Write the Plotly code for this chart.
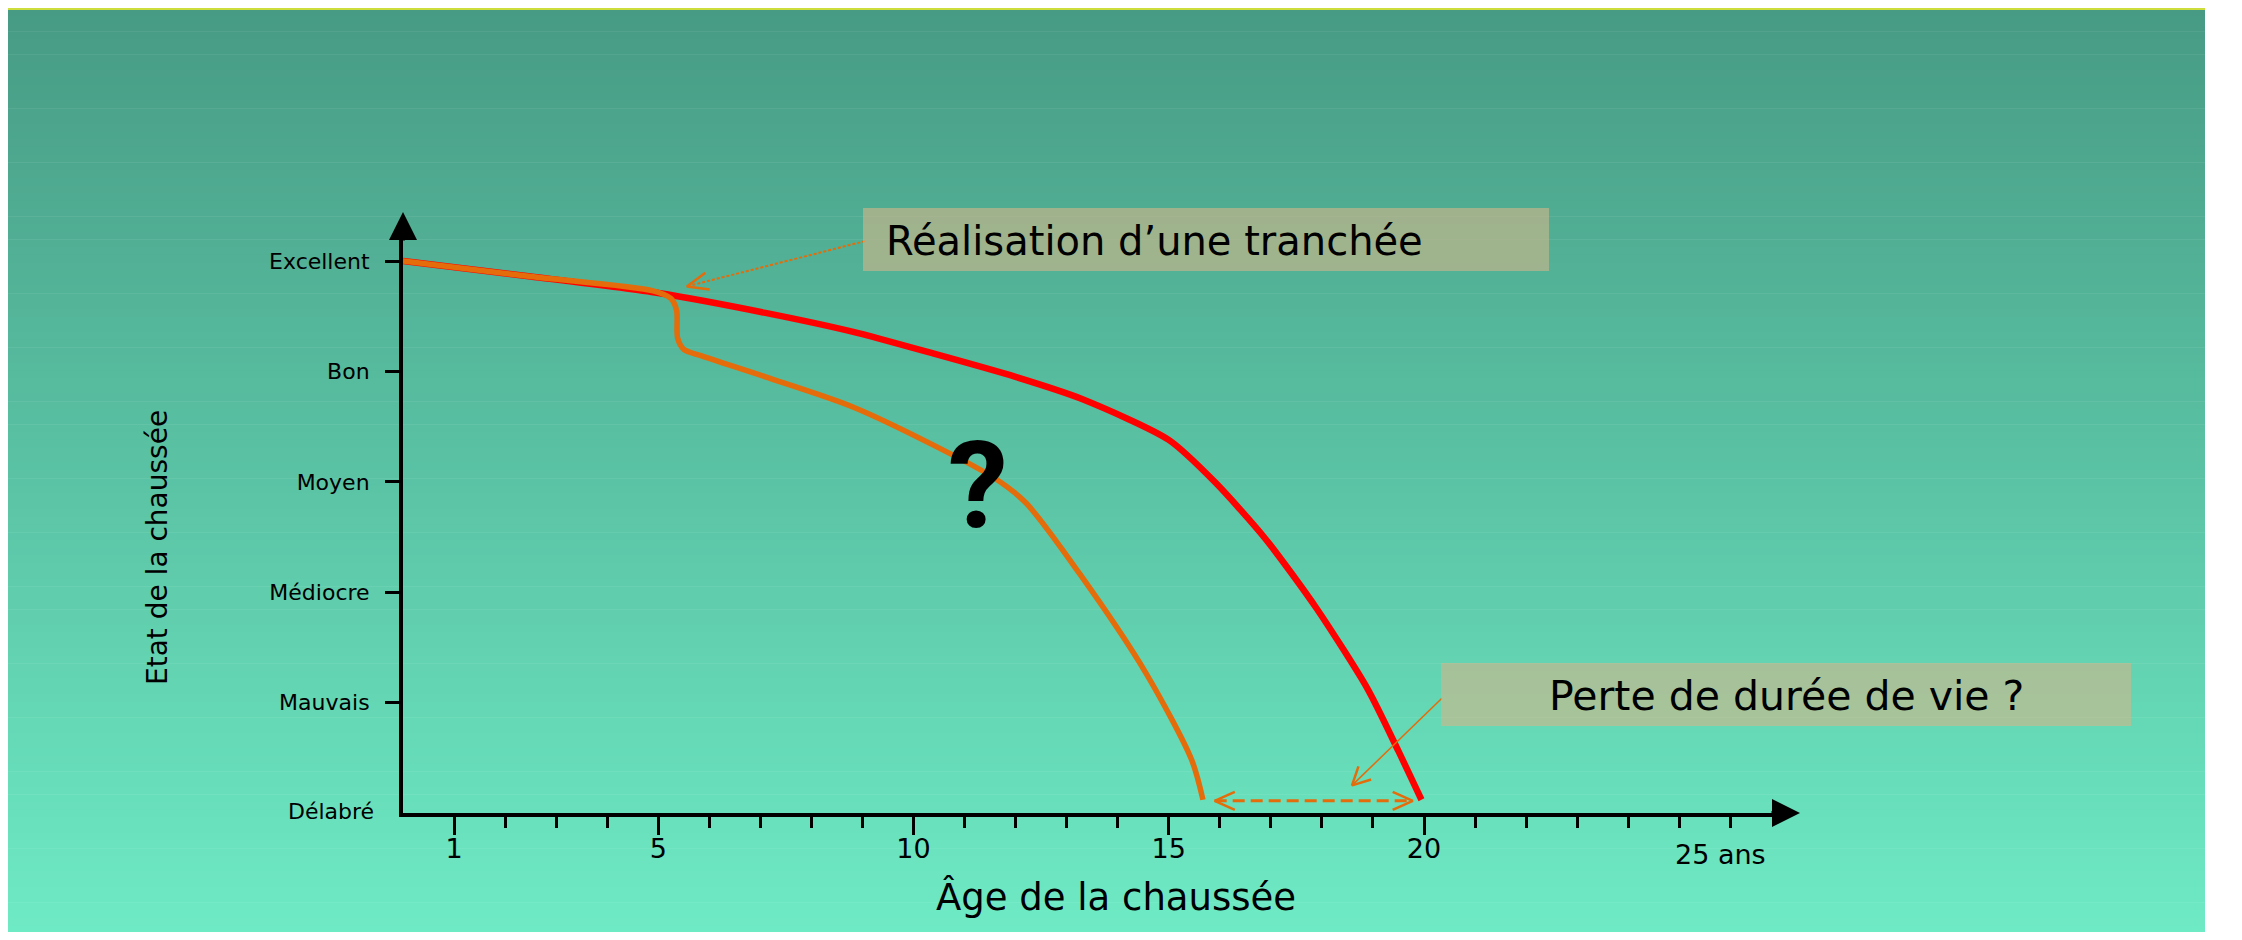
import math
import plotly.graph_objects as go

# ---------------- data ----------------
age_red = [0, 2.5, 5.0, 7.1, 8.8, 10.4, 12.0, 13.3, 15.0, 15.9, 16.9, 17.9, 18.9, 19.5, 19.95]
etat_red = [5.0, 4.86, 4.71, 4.53, 4.36, 4.16, 3.95, 3.75, 3.38, 3.0, 2.48, 1.85, 1.12, 0.56, 0.12]

age_orange = [0, 2.5, 4.9, 5.25, 5.36, 5.38, 5.5, 5.85, 7.1, 8.8, 10.4, 11.6, 12.2, 13.25, 14.55, 15.45, 15.67]
etat_orange = [5.0, 4.86, 4.73, 4.66, 4.55, 4.3, 4.2, 4.14, 3.95, 3.68, 3.33, 3.03, 2.81, 2.17, 1.27, 0.48, 0.12]

etat_levels = [1, 2, 3, 4, 5]
etat_labels = ["Mauvais", "Médiocre", "Moyen", "Bon", "Excellent"]
etat_zero_label = "Délabré"

age_major = [1, 5, 10, 15, 20, 25]
age_major_labels = ["1", "5", "10", "15", "20", ""]
age_minor = list(range(1, 27))
age_last_label = "25 ans"

trench_tip = (5.56, 4.77)
trench_tail = (9.05, 5.18)
loss_tip = (18.59, 0.25)
loss_tail = (20.35, 1.04)
gap_start, gap_end, gap_level = 15.9, 19.78, 0.11
question_pos = (11.27, 2.96)

txt_trench = "Réalisation d’une tranchée"
txt_loss = "Perte de durée de vie ?"
txt_xtitle = "Âge de la chaussée"
txt_ytitle = "Etat de la chaussée"

# ---------------- layout geometry (page pixels) ----------------
OFF = 8  # default body margin of the html page
W, H = 2242 - 2 * OFF, 940 - 2 * OFF
X0_PX, PX_PER_YEAR = 403.0, 51.05
Y0_PX, PX_PER_LEVEL = 813.0, 110.4
XEND_PX, YTOP_PX = 1790.0, 228.0
x_range = [0, (XEND_PX - X0_PX) / PX_PER_YEAR]
y_range = [0, (Y0_PX - YTOP_PX) / PX_PER_LEVEL]


def pxx(p):
    return (p - OFF) / W


def pxy(p):
    return 1 - (p - OFF) / H


def d2p(x, y):
    return X0_PX + x * PX_PER_YEAR, Y0_PX - y * PX_PER_LEVEL


def p2d(px, py):
    return (px - X0_PX) / PX_PER_YEAR, (Y0_PX - py) / PX_PER_LEVEL


def chevron(tip, toward, length, half_angle_deg):
    tx, ty = d2p(*tip)
    wx, wy = d2p(*toward)
    a = math.atan2(wy - ty, wx - tx)
    xs, ys = [], []
    for s in (1, -1):
        b = a + s * math.radians(half_angle_deg)
        ex, ey = p2d(tx + length * math.cos(b), ty + length * math.sin(b))
        xs.append(ex)
        ys.append(ey)
    return [xs[0], tip[0], xs[1]], [ys[0], tip[1], ys[1]]


ORANGE = "#e46c0a"
fig = go.Figure()

# background gradient
shapes = []
top_c, bot_c = (71, 155, 132), (110, 234, 196)
bg_top, bg_bot, bg_left, bg_right = 8.0, 933.0, 8.0, 2205.0
n = 120
for i in range(n):
    t = i / (n - 1)
    c = tuple(round(top_c[k] + (bot_c[k] - top_c[k]) * t) for k in range(3))
    y1 = bg_top + (bg_bot - bg_top) * i / n
    y2 = bg_top + (bg_bot - bg_top) * (i + 1) / n + 0.6
    shapes.append(dict(type="rect", xref="paper", yref="paper", layer="below",
                       x0=pxx(bg_left), x1=pxx(bg_right), y0=pxy(y2), y1=pxy(y1),
                       fillcolor="rgb(%d,%d,%d)" % c, line=dict(width=0)))
shapes.append(dict(type="rect", xref="paper", yref="paper", layer="below",
                   x0=pxx(bg_left), x1=pxx(bg_right), y0=pxy(10), y1=pxy(8),
                   fillcolor="rgb(205,222,60)", line=dict(width=0)))
# annotation boxes
box_fill = "rgba(212,182,136,0.6)"
shapes.append(dict(type="rect", xref="paper", yref="paper", layer="above",
                   x0=pxx(863), x1=pxx(1549), y0=pxy(271), y1=pxy(208),
                   fillcolor=box_fill, line=dict(width=0)))
shapes.append(dict(type="rect", xref="paper", yref="paper", layer="above",
                   x0=pxx(1441), x1=pxx(2131), y0=pxy(726), y1=pxy(663),
                   fillcolor=box_fill, line=dict(width=0)))

# curves
fig.add_trace(go.Scatter(x=age_red, y=etat_red, mode="lines",
                         line=dict(color="#ff0000", width=6.5, shape="spline", smoothing=0.7),
                         hoverinfo="skip", cliponaxis=False))
fig.add_trace(go.Scatter(x=age_orange, y=etat_orange, mode="lines",
                         line=dict(color=ORANGE, width=5.5, shape="spline", smoothing=0.8),
                         hoverinfo="skip", cliponaxis=False))

# connector: trench
fig.add_trace(go.Scatter(x=[trench_tail[0], trench_tip[0]], y=[trench_tail[1], trench_tip[1]],
                         mode="lines", line=dict(color=ORANGE, width=2, dash="3px,2px"),
                         hoverinfo="skip", cliponaxis=False))
cx, cy = chevron(trench_tip, trench_tail, 23, 22)
fig.add_trace(go.Scatter(x=cx, y=cy, mode="lines", line=dict(color=ORANGE, width=2.5),
                         hoverinfo="skip", cliponaxis=False))
# connector: loss
fig.add_trace(go.Scatter(x=[loss_tail[0], loss_tip[0]], y=[loss_tail[1], loss_tip[1]],
                         mode="lines", line=dict(color=ORANGE, width=1.5),
                         hoverinfo="skip", cliponaxis=False))
cx, cy = chevron(loss_tip, loss_tail, 20, 27)
fig.add_trace(go.Scatter(x=cx, y=cy, mode="lines", line=dict(color=ORANGE, width=2.5),
                         hoverinfo="skip", cliponaxis=False))
# double arrow for lost life
fig.add_trace(go.Scatter(x=[gap_start, gap_end], y=[gap_level, gap_level], mode="lines",
                         line=dict(color=ORANGE, width=3, dash="12px,6px"),
                         hoverinfo="skip", cliponaxis=False))
for tip, tow in (((gap_start, gap_level), (gap_end, gap_level)),
                 ((gap_end, gap_level), (gap_start, gap_level))):
    cx, cy = chevron(tip, tow, 22, 24)
    fig.add_trace(go.Scatter(x=cx, y=cy, mode="lines", line=dict(color=ORANGE, width=2.5),
                             hoverinfo="skip", cliponaxis=False))

FONT = "DejaVu Sans"
annotations = [
    # axis arrowheads
    dict(x=pxx(1800), y=pxy(Y0_PX), xref="paper", yref="paper", ax=-30, ay=0, text="",
         showarrow=True, arrowhead=2, arrowsize=1.4, arrowwidth=4, arrowcolor="black"),
    dict(x=pxx(X0_PX), y=pxy(212), xref="paper", yref="paper", ax=0, ay=30, text="",
         showarrow=True, arrowhead=2, arrowsize=1.4, arrowwidth=4, arrowcolor="black"),
    dict(x=0, y=0, xref="x", yref="y", xanchor="right", yanchor="middle", xshift=-27, yshift=2,
         text=etat_zero_label, showarrow=False, font=dict(family=FONT, size=22, color="black")),
    dict(x=24.88, y=0, xref="x", yref="y", xanchor="left", yanchor="top", yshift=-24,
         text=age_last_label, showarrow=False, font=dict(family=FONT, size=27, color="black")),
    dict(x=pxx(1116), y=pxy(897), xref="paper", yref="paper", xanchor="center", yanchor="middle",
         text=txt_xtitle, showarrow=False, font=dict(family=FONT, size=37, color="black")),
    dict(x=pxx(157), y=pxy(548), xref="paper", yref="paper", xanchor="center", yanchor="middle",
         text=txt_ytitle, showarrow=False, textangle=-90, font=dict(family=FONT, size=28, color="black")),
    dict(x=pxx(884), y=pxy(241), xref="paper", yref="paper", xanchor="left", yanchor="middle",
         text=txt_trench, showarrow=False, font=dict(family=FONT, size=40, color="black")),
    dict(x=pxx(1786), y=pxy(696), xref="paper", yref="paper", xanchor="center", yanchor="middle",
         text=txt_loss, showarrow=False, font=dict(family=FONT, size=41, color="black")),
    dict(x=question_pos[0], y=question_pos[1], xref="x", yref="y", xanchor="center", yanchor="middle",
         text="<b>?</b>", showarrow=False, font=dict(family="Roboto", size=120, color="black")),
]

fig.update_layout(
    width=W, height=H,
    margin=dict(l=0, r=0, t=0, b=0),
    paper_bgcolor="white", plot_bgcolor="rgba(0,0,0,0)",
    showlegend=False, shapes=shapes, annotations=annotations,
    xaxis=dict(domain=[pxx(X0_PX), pxx(XEND_PX)], range=x_range, showgrid=False, zeroline=False,
               showline=True, linecolor="black", linewidth=4,
               tickmode="array", tickvals=age_major, ticktext=age_major_labels,
               ticks="outside", ticklen=18, tickwidth=3, tickcolor="black",
               ticklabelstandoff=-9,
               tickfont=dict(family=FONT, size=27, color="black"),
               minor=dict(tickmode="array", tickvals=age_minor, ticks="outside", ticklen=11,
                          tickwidth=3, tickcolor="black"),
               fixedrange=True),
    yaxis=dict(domain=[pxy(Y0_PX), pxy(YTOP_PX)], range=y_range, showgrid=False, zeroline=False,
               showline=True, linecolor="black", linewidth=4,
               tickmode="array", tickvals=etat_levels, ticktext=etat_labels,
               ticks="outside", ticklen=14, tickwidth=3, tickcolor="black",
               ticklabelstandoff=11,
               tickfont=dict(family=FONT, size=22, color="black"), fixedrange=True),
)

fig.write_html("out.html")
